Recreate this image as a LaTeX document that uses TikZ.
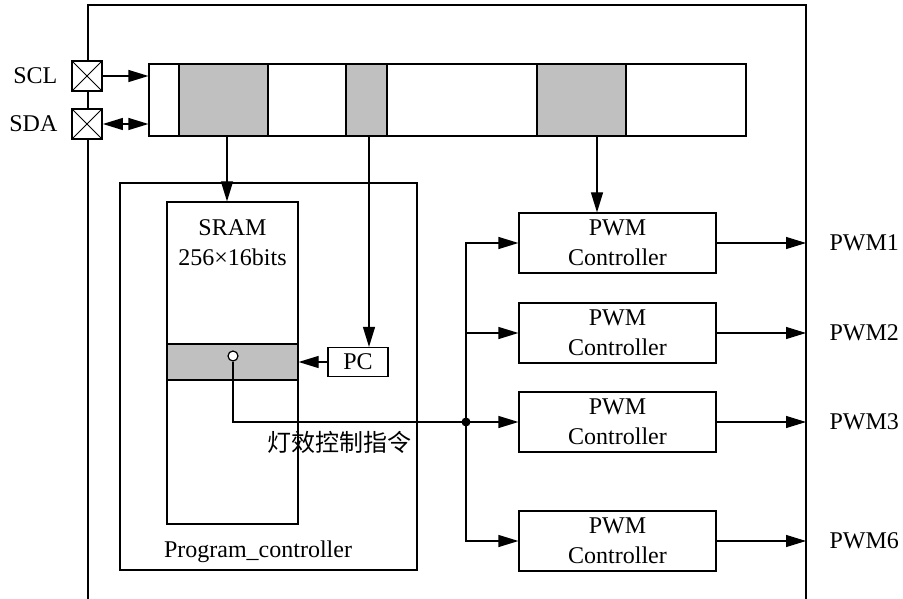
\documentclass[tikz,border=0pt]{standalone}
\usepackage{fontspec}
\setmainfont{Liberation Serif}
\newfontfamily\cjk{Noto Sans CJK SC}
\usetikzlibrary{shapes.misc, arrows.meta}
\definecolor{cellgray}{RGB}{192,192,192}
\tikzset{
  pad/.style = {draw = black, line width = 1.8pt, fill = white, minimum size = 30pt, inner sep = 0pt},
  regcell/.style = {draw = black, minimum height = 72pt, inner sep = 0pt},
  pwmbox/.style = {draw = black, minimum width = 197pt, minimum height = 60pt, inner sep = 0pt, align = center}
}
\begin{document}
\begin{tikzpicture}[x = 1pt, y = -1pt, line width = 1.2pt,
  font = \fontsize{24}{30}\selectfont,
  >={Triangle[length = 20pt, width = 12pt]}]
\useasboundingbox (0, 0) rectangle (903, 599);

% chip outline
\draw (88, 599) -- (88, 5) -- (806, 5) -- (806, 599);
\coordinate (edge) at (806, 0);

\node [pad] (sclpad) at (87, 76) {};
\node [draw = black, line width = 1pt, minimum size = 30pt, inner sep = 0pt, cross out] at (87, 76) {};
\node [pad] (sdapad) at (87, 124) {};
\node [draw = black, line width = 1pt, minimum size = 30pt, inner sep = 0pt, cross out] at (87, 124) {};
\node [anchor = east, inner sep = 0pt] (scl) at (58, 76) {SCL};
\node [anchor = east, inner sep = 0pt] (sda) at (58, 124) {SDA};

% register bar
\node [regcell, minimum width = 597pt] (reg) at (447.5, 100) {};
\node [regcell, fill = cellgray, minimum width = 89pt] (seg1) at (223.5, 100) {};
\node [regcell, fill = cellgray, minimum width = 41pt] (seg2) at (366.5, 100) {};
\node [regcell, fill = cellgray, minimum width = 89pt] (seg3) at (581.5, 100) {};

\draw [->] (sclpad.east) -- (sclpad -| reg.west);
\draw [<->] (sdapad.east) -- (sdapad -| reg.west);

% program controller
\node [draw = black, minimum width = 297pt, minimum height = 387pt, inner sep = 0pt] (prog) at (268.5, 376.5) {};
\node (proglabel) at (258, 552) {Program\_controller};
\node [draw = black, minimum width = 131pt, minimum height = 322pt, inner sep = 0pt] (sram) at (232.5, 363) {};
\node [align = center, inner sep = 0pt] (sramtext) at (232.5, 243) {SRAM\\256×16bits};
\node [draw = black, fill = cellgray, minimum width = 131pt, minimum height = 36pt, inner sep = 0pt] (sramrow) at (232.5, 362) {};
\node [draw = black, minimum width = 60pt, minimum height = 29pt, inner sep = 0pt] (pc) at (358, 362) {PC};
\node [draw = black, circle, fill = white, minimum size = 10pt, inner sep = 0pt] (tap) at (233, 356) {};

\draw [->] ([xshift = 3.5pt]seg1.south) -- ([xshift = 3.5pt]seg1.south |- sram.north);
\draw [->] ([xshift = 2.5pt]seg2.south) -- ([xshift = 2.5pt]seg2.south |- pc.north);
\draw [->] (pc.west) -- (pc.west -| sram.east);

% pwm controllers
\node [pwmbox] (pwm1) at (617.5, 243) {PWM\\Controller};
\node [pwmbox] (pwm2) at (617.5, 333) {PWM\\Controller};
\node [pwmbox] (pwm3) at (617.5, 422) {PWM\\Controller};
\node [pwmbox] (pwm6) at (617.5, 541) {PWM\\Controller};

\draw [->] ([xshift = 15.5pt]seg3.south) -- ([xshift = 15.5pt]seg3.south |- pwm1.north);

\coordinate (junc) at (466, 422);
\draw [->] (tap.south) |- (pwm3.west);
\fill (junc) circle (4.5pt);
\draw [->] (junc) |- (pwm1.west);
\draw [->] (junc) |- (pwm2.west);
\draw [->] (junc) |- (pwm6.west);
\node (cmdtext) at (339, 442) {\cjk 灯效控制指令};

\foreach \n in {1, 2, 3, 6} {
  \draw [->] (pwm\n.east) -- (pwm\n.east -| edge);
  \node [anchor = west, inner sep = 0pt] (out\n) at ([xshift = 23pt]pwm\n.east -| edge) {PWM\n};
}
\end{tikzpicture}
\end{document}
